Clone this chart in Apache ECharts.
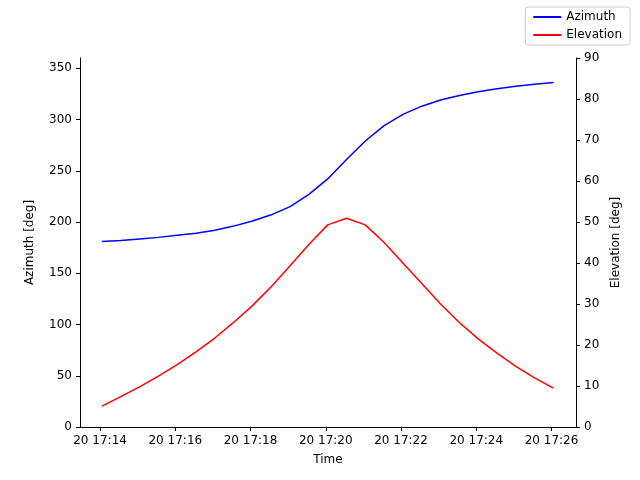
<!DOCTYPE html>
<html><head><meta charset="utf-8">
<script src="https://cdn.jsdelivr.net/npm/echarts@6/dist/echarts.min.js"></script>
<style>body{margin:0}#c{width:640px;height:480px}</style>
</head><body><div id="c"></div>
<script>
// samples every 30 s starting 17:14:03
const startTime = new Date(2024, 0, 20, 17, 14, 3).getTime();
const azimuth = [181,182,183.5,185,187,189,192,196,201,207,215,227,242,261,279,294,305,313,319,323.5,327,330,332.5,334.5,336];
const elevation = [5.1,7.4,9.8,12.4,15.2,18.3,21.7,25.5,29.6,34.2,39.3,44.5,49.3,50.9,49.3,45,40,35,30,25.5,21.5,18,14.8,12,9.5];
const times = azimuth.map((_, i) => startTime + i * 30000);

let chart = echarts.init(document.getElementById("c"));
const txt = {color: '#000', fontSize: 12, fontFamily: 'DejaVu Sans'};
const line = {show: true, lineStyle: {color: '#000', width: 1}};
const tick = {show: true, inside: false, length: 4, lineStyle: {color: '#000'}};
const pad = n => String(n).padStart(2, '0');

chart.setOption({
  animation: false,
  textStyle: {fontFamily: 'DejaVu Sans'},
  legend: {
    right: 10, top: 7, orient: 'vertical', itemGap: 6,
    borderColor: '#ccc', borderWidth: 1, borderRadius: 3, padding: [4, 8],
    itemWidth: 28, itemHeight: 2, icon: 'rect',
    textStyle: {fontSize: 12, color: '#000'},
    data: ['Azimuth', 'Elevation']
  },
  grid: {left: 80, right: 64, top: 58, bottom: 53},
  xAxis: {
    type: 'time',
    min: new Date(2024, 0, 20, 17, 13, 28).getTime(),
    max: new Date(2024, 0, 20, 17, 26, 39).getTime(),
    interval: 300000,
    name: 'Time', nameLocation: 'middle', nameGap: 27, nameTextStyle: txt,
    axisLine: line, axisTick: tick, splitLine: {show: false},
    axisLabel: Object.assign({}, txt, {
      formatter: v => { const d = new Date(v); return d.getDate() + ' ' + pad(d.getHours()) + ':' + pad(d.getMinutes()); }
    })
  },
  yAxis: [
    {type: 'value', min: 0, max: 360, interval: 50, name: 'Azimuth [deg]',
     nameLocation: 'middle', nameGap: 44, nameTextStyle: txt,
     axisLine: line, axisTick: tick, splitLine: {show: false}, axisLabel: txt},
    {type: 'value', min: 0, max: 90, interval: 10, name: 'Elevation [deg]',
     nameLocation: 'middle', nameGap: 30, nameRotate: 90, nameTextStyle: txt,
     axisLine: line, axisTick: tick, splitLine: {show: false}, axisLabel: txt}
  ],
  series: [
    {name: 'Azimuth', type: 'line', yAxisIndex: 0, showSymbol: false,
     color: '#0000ff', lineStyle: {width: 1.5},
     data: times.map((t, i) => [t, azimuth[i]])},
    {name: 'Elevation', type: 'line', yAxisIndex: 1, showSymbol: false,
     color: '#ff0000', lineStyle: {width: 1.5},
     data: times.map((t, i) => [t, elevation[i]])}
  ]
});
</script></body></html>
